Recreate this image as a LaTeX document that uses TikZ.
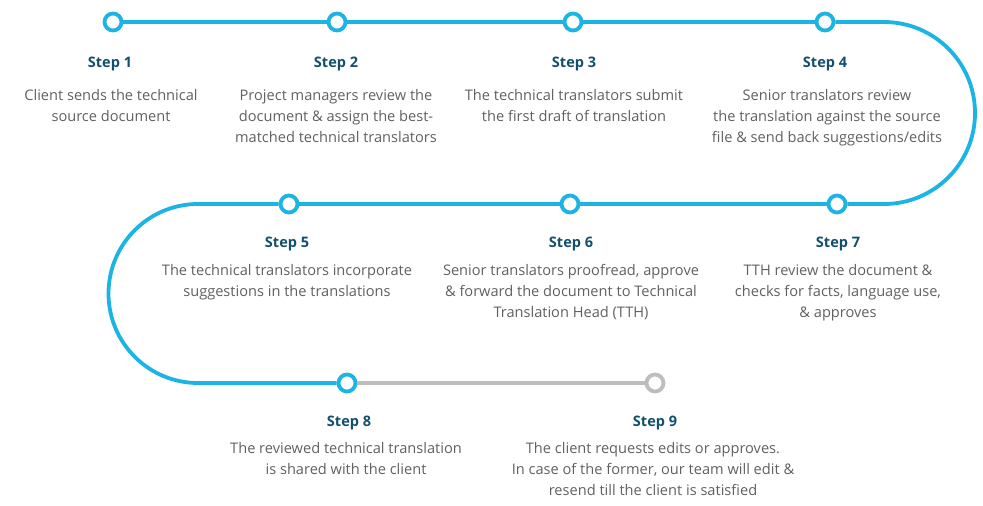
\documentclass[tikz,border=0pt]{standalone}
\usepackage{fontspec}
\setmainfont{Open Sans}
\usepackage{tikz}
\usetikzlibrary{positioning}
\definecolor{lineblue}{HTML}{1CB4E4}
\definecolor{linegray}{HTML}{BDBDBD}
\definecolor{headblue}{HTML}{124F6E}
\definecolor{bodygray}{HTML}{606060}

\begin{document}
\begin{tikzpicture}[
    x=1pt, y=-1pt,
    dot/.style={circle, draw=lineblue, line width=3.8pt, fill=white, minimum size=17pt, inner sep=0pt},
    dotgray/.style={dot, draw=linegray},
    track/.style={draw=lineblue, line width=3.8pt},
    trackgray/.style={draw=linegray, line width=3.8pt},
    head/.style={font=\fontsize{14.5}{16}\selectfont\bfseries, text=headblue, anchor=base, inner sep=0pt},
    body/.style={font=\fontsize{14.6}{21}\selectfont, text=bodygray, align=center, anchor=north, inner sep=0pt}
]
\useasboundingbox (0,0) rectangle (983,506);

% Timeline dots
\node[dot] (s1) at (113, 22) {};
\node[dot] (s2) at (337, 22) {};
\node[dot] (s3) at (573, 22) {};
\node[dot] (s4) at (825, 22) {};
\node[dot] (s7) at (837, 204) {};
\node[dot] (s6) at (570, 204) {};
\node[dot] (s5) at (289, 204) {};
\node[dot] (s8) at (347, 383) {};
\node[dotgray] (s9) at (655, 383) {};

% Turn points of the track
\coordinate (tr) at (884, 22);
\coordinate (tl) at (198, 204);

% Track
\draw[track] (s1) -- (s2);
\draw[track] (s2) -- (s3);
\draw[track] (s3) -- (s4);
\draw[track] (s4) -- (tr) arc[start angle=-90, end angle=90, radius=91] -- (s7);
\draw[track] (s7) -- (s6);
\draw[track] (s6) -- (s5);
\draw[track] (s5) -- (tl) arc[start angle=-90, end angle=-270, radius=89.5] -- (s8);
\draw[trackgray] (s8) -- (s9);

% Row 1
\node[head] (h1) at (110, 67) {Step 1};
\node[body] (t1) at (111, 89) {Client sends the technical\\source document};
\node[head] (h2) at (336, 67) {Step 2};
\node[body] (t2) at (336, 89) {Project managers review the\\document \& assign the best-\\matched technical translators};
\node[head] (h3) at (574, 67) {Step 3};
\node[body] (t3) at (574, 89) {The technical translators submit\\the first draft of translation};
\node[head] (h4) at (825, 67) {Step 4};
\node[body] (t4) at (827, 89) {Senior translators review\\the translation against the source\\file \& send back suggestions/edits};

% Row 2
\node[head] (h5) at (287, 247) {Step 5};
\node[body] (t5) at (287, 264) {The technical translators incorporate\\suggestions in the translations};
\node[head] (h6) at (571, 247) {Step 6};
\node[body] (t6) at (571, 264) {Senior translators proofread, approve\\\& forward the document to Technical\\Translation Head (TTH)};
\node[head] (h7) at (838, 247) {Step 7};
\node[body] (t7) at (838, 264) {TTH review the document \&\\checks for facts, language use,\\\& approves};

% Row 3
\node[head] (h8) at (349, 426) {Step 8};
\node[body] (t8) at (346, 442) {The reviewed technical translation\\is shared with the client};
\node[head] (h9) at (655, 426) {Step 9};
\node[body] (t9) at (653, 442) {The client requests edits or approves.\\In case of the former, our team will edit \&\\resend till the client is satisfied};

\end{tikzpicture}
\end{document}
